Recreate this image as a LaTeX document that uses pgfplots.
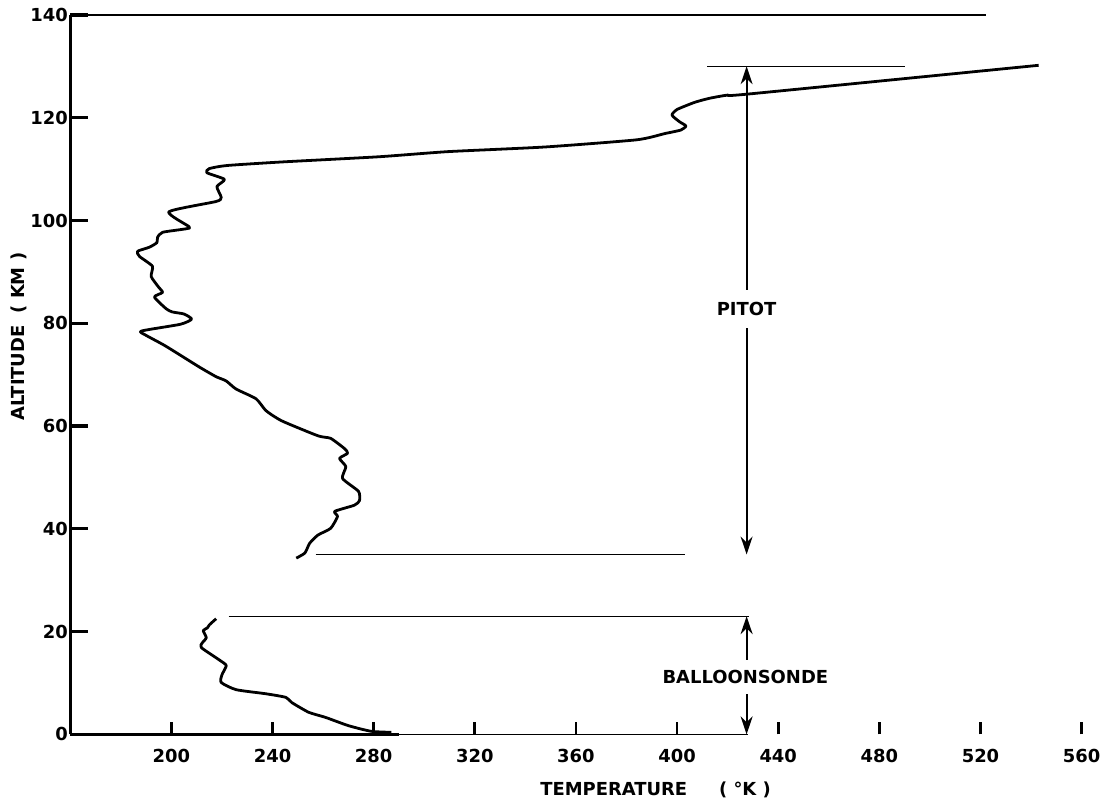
\documentclass[border=0pt]{standalone}
\usepackage{fontspec}
\setmainfont{DejaVu Sans}
\usepackage{pgfplots}
\pgfplotsset{compat=1.18}
\usetikzlibrary{arrows.meta}

\newcommand{\lbl}{\fontsize{9}{10.5}\selectfont\bfseries}

\begin{document}
\begin{tikzpicture}
\begin{axis}[
    scale only axis,
    width=507.5pt, height=361pt,
    xmin=160, xmax=560, ymin=0, ymax=140,
    axis x line*=bottom, axis y line*=left,
    axis line style={draw=none},
    xtick={200,240,...,560},
    ytick={0,20,...,140},
    tick align=inside,
    major tick length=9pt,
    xtick style={black, line width=1.4pt, /pgfplots/major tick length=6pt},
    ytick style={black, line width=1.6pt},
    tick label style={font=\lbl},
    /pgf/number format/assume math mode=true,
    xticklabel style={yshift=-4pt},
    yticklabel style={inner sep=1pt},
    clip=false,
]
% axis frame as drawn
\draw[line width=1.5pt] (axis cs:160,0) -- (axis cs:160,140);
\draw[line width=1.4pt] (axis cs:160,140) -- (axis cs:248,140);
\draw[line width=0.7pt] (axis cs:248,140) -- (axis cs:522,140);
\draw[line width=1.2pt] (axis cs:160,0) -- (axis cs:290,0);
\draw[line width=0.6pt] (axis cs:290,0) -- (axis cs:428,0);

% pitot
\addplot[black, line width=1.4pt, smooth, tension=0.35, line join=round] coordinates {
(543,130.2) (428,124.6) (420,124.4) (413,123.8) (407,123) (400,121.6)
(398,120.5) (401,119.2) (403.5,118.4) (401.5,117.6) (395,116.9) (384,115.7)
(347.6,114.3) (309.4,113.4) (282,112.4) (244,111.4) (222,110.7) (215,110.1)
(214,109.3) (221,108) (218,106.6) (219.7,104.5) (217.7,103.7) (199,101.7)
(207,98.8) (206,98.4) (196.5,97.7) (194.5,96.7) (194.3,95.7) (191.3,94.8)
(186.6,94) (187.4,93) (192.5,91.1) (192,89.1) (195,87) (196.5,86)
(193.3,85.1) (198,82.8) (200.4,82.2) (205,81.8) (208,80.8) (203.5,79.8)
(188.2,78.5) (189.8,77.7) (197.6,75.6) (211,71.5) (217.7,69.6) (221.6,68.8)
(225.6,67.2) (233.5,65.3) (237.4,63) (243.7,61) (258,58.1) (263,57.6)
(268.5,55.6) (269.7,54.7) (266.5,53.7) (269,52.1) (267.7,49.8) (274,47.3)
(274.4,45.5) (272.4,44.6) (264.6,43.4) (265.7,42.4) (263,40.1) (258,38.8)
(254.7,37.2) (252.8,35.3) (249.4,34.3)
};
% balloonsonde
\addplot[black, line width=1.4pt, smooth, tension=0.35, line join=round] coordinates {
(217.7,22.5) (215,21.3) (214.2,20.7) (212.6,20.2) (213.8,18.8) (212.2,17.8)
(211.8,16.9) (218.9,14.5) (221.7,13.4) (220,11.6) (219.7,10.1) (225.6,8.7)
(237.4,7.9) (245.3,7.2) (247.6,6.2) (254.3,4.3) (261,3.3) (270,1.7)
(279,0.6) (287,0.4)
};

% range lines
\addplot[black, line width=0.6pt] coordinates {(412,130) (490,130)};
\addplot[black, line width=0.6pt] coordinates {(257,35) (403,35)};
\addplot[black, line width=0.6pt] coordinates {(222.6,23) (428.5,23)};

% arrows
\draw[line width=1pt, {Stealth[length=9pt,width=6pt]}-{Stealth[length=9pt,width=6pt]}]
    (axis cs:427.5,35) -- (axis cs:427.5,130);
\node[fill=white, inner xsep=2pt, inner ysep=6pt, font=\lbl] at (axis cs:427.5,82.8) {PITOT};
\draw[line width=1pt, {Stealth[length=9pt,width=6pt]}-{Stealth[length=9pt,width=6pt]}]
    (axis cs:427.5,0) -- (axis cs:427.5,23);
\node[fill=white, inner xsep=2pt, inner ysep=5pt, font=\lbl] at (axis cs:427,11.2) {BALLOONSONDE};

% axis titles
\node[font=\lbl] at ([yshift=-28pt]axis cs:391.5,0) {TEMPERATURE\hspace{16pt}( °K )};
\node[font=\lbl, rotate=90] at ([xshift=-25.75pt]axis cs:160,77.4) {ALTITUDE\hspace{6pt}( KM )};
\end{axis}
\path (current axis.south west) ++(-35.25pt,-35.5pt) rectangle ([shift={(10.75pt,7.5pt)}]current axis.north east);
\end{tikzpicture}
\end{document}
